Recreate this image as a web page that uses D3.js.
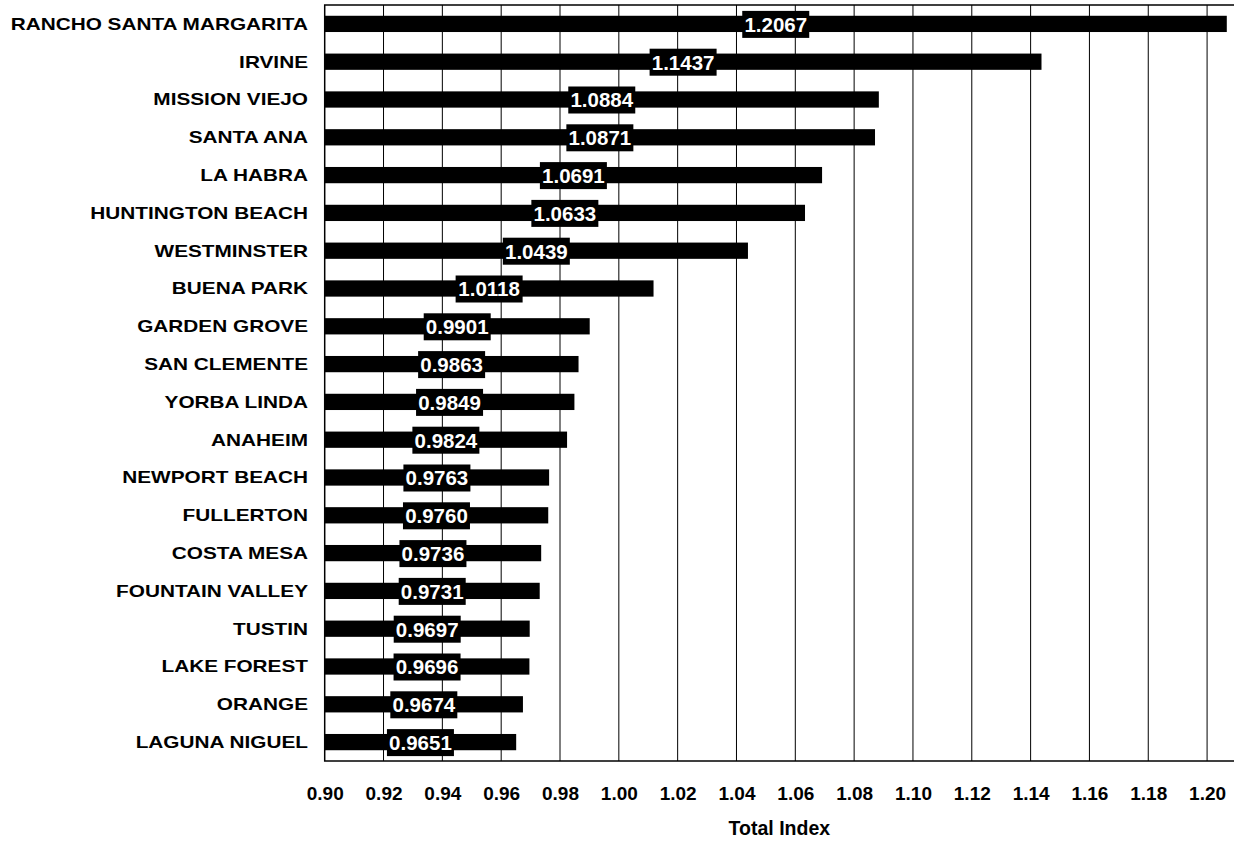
<!DOCTYPE html>
<html><head><meta charset="utf-8">
<script src="https://cdn.jsdelivr.net/npm/d3@7"></script>
<style>body{margin:0;background:#fff}svg{display:block}</style>
</head><body>
<svg id="c" width="1234" height="841"></svg>
<script>
const cities = ["RANCHO SANTA MARGARITA","IRVINE","MISSION VIEJO","SANTA ANA","LA HABRA","HUNTINGTON BEACH","WESTMINSTER","BUENA PARK","GARDEN GROVE","SAN CLEMENTE","YORBA LINDA","ANAHEIM","NEWPORT BEACH","FULLERTON","COSTA MESA","FOUNTAIN VALLEY","TUSTIN","LAKE FOREST","ORANGE","LAGUNA NIGUEL"];
const values = [1.2067,1.1437,1.0884,1.0871,1.0691,1.0633,1.0439,1.0118,0.9901,0.9863,0.9849,0.9824,0.9763,0.9760,0.9736,0.9731,0.9697,0.9696,0.9674,0.9651];
const tickValues = [0.90,0.92,0.94,0.96,0.98,1.00,1.02,1.04,1.06,1.08,1.10,1.12,1.14,1.16,1.18,1.20];
const axisTitle = "Total Index";

(function () {
const svg = d3.select("#c");
const font = "'Liberation Sans', Arial, sans-serif";
const pL = 324.7, pR = 1236.5, pT = 5, pB = 761;
const x = d3.scaleLinear().domain([0.90, 1.21]).range([pL, pR]);
const y = d3.scaleBand().domain(cities).range([pT, pB]).paddingInner(0.57).paddingOuter(0.285);

svg.append("g").selectAll("line").data(tickValues.slice(1)).join("line")
  .attr("x1", d => x(d)).attr("x2", d => x(d)).attr("y1", pT).attr("y2", pB)
  .attr("stroke", "#000").attr("stroke-width", 1);
svg.append("rect").attr("x", pL).attr("y", pT).attr("width", pR - pL).attr("height", pB - pT)
  .attr("fill", "none").attr("stroke", "#000").attr("stroke-width", 1.5);

svg.append("g").selectAll("rect").data(cities).join("rect")
  .attr("x", x(0.90)).attr("y", d => y(d))
  .attr("width", (d, i) => x(values[i]) - x(0.90)).attr("height", y.bandwidth())
  .attr("fill", "#000");

const lg = svg.append("g").selectAll("g").data(cities).join("g")
  .attr("transform", (d, i) => `translate(${(x(0.90) + x(values[i])) / 2},${y(d) + y.bandwidth() / 2 + 0.5})`);
lg.append("rect").attr("x", -33.5).attr("y", -13.5).attr("width", 67).attr("height", 27).attr("fill", "#000");
lg.append("text").attr("text-anchor", "middle").attr("dy", "0.36em")
  .attr("fill", "#fff").attr("font-family", font).attr("font-weight", "bold").attr("font-size", 20.5)
  .text((d, i) => values[i].toFixed(4));

svg.append("g").selectAll("text").data(cities).join("text")
  .attr("transform", d => `translate(308,${y(d) + y.bandwidth() / 2}) scale(1.26,1)`).attr("dy", "0.36em")
  .attr("text-anchor", "end").attr("font-family", font).attr("font-weight", "bold").attr("font-size", 16.5)
  .text(d => d);

const ax = svg.append("g").attr("transform", `translate(0,${pB})`)
  .call(d3.axisBottom(x).tickValues(tickValues).tickFormat(d3.format(".2f")).tickSize(0));
ax.select(".domain").remove();
ax.selectAll("text").attr("y", 32).attr("dy", "0.36em")
  .attr("font-family", font).attr("font-weight", "bold").attr("font-size", 19).attr("fill", "#000");

svg.append("text").attr("x", (pL + 1234) / 2).attr("y", 828).attr("dy", "0.36em")
  .attr("text-anchor", "middle").attr("font-family", font).attr("font-weight", "bold").attr("font-size", 19.5)
  .text(axisTitle);
})();
</script>
</body></html>
